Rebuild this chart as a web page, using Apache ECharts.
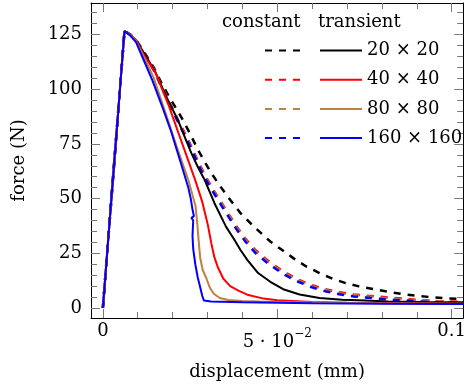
<!DOCTYPE html>
<html>
<head>
<meta charset="utf-8">
<style>
  html, body { margin: 0; padding: 0; background: #fff; }
  #chart { width: 469px; height: 390px; }
</style>
<script src="https://cdn.jsdelivr.net/npm/echarts@6/dist/echarts.min.js"></script>
</head>
<body>
<div id="chart"></div>
<script>
// displacement (mm), force (N) pairs
const const20 = [[0,0],[0.0062,126.6],[0.0078,125],[0.0095,122.6],[0.0123,115.8],[0.0147,109.6],[0.0169,102.5],[0.019,96.5],[0.0211,91],[0.0231,85.5],[0.0252,79],[0.0273,72.2],[0.0292,66.8],[0.0311,61.6],[0.0335,56],[0.0358,50.9],[0.0395,43.3],[0.0433,37.2],[0.048,30.4],[0.0513,26.6],[0.0546,22.8],[0.0583,19],[0.0621,16],[0.0658,13.4],[0.0696,11.4],[0.0734,9.9],[0.0776,8.6],[0.0818,7.4],[0.086,6.4],[0.0898,5.6],[0.094,5],[0.0982,4.5],[0.1033,4]];
const const40 = [[0,0],[0.0062,126.6],[0.0078,125],[0.0095,122.5],[0.0123,115.6],[0.0147,109],[0.0169,101.5],[0.019,94.5],[0.0217,85.5],[0.0245,76.8],[0.0273,67],[0.0297,59.5],[0.032,53.2],[0.0344,47.1],[0.0363,42.3],[0.0381,37.8],[0.0409,31.6],[0.0437,26.5],[0.047,22],[0.0491,19.6],[0.0522,16.2],[0.056,13],[0.0599,10.4],[0.0637,8.6],[0.0677,7.2],[0.0719,6.2],[0.0747,5.8],[0.079,5.2],[0.0832,4.6],[0.0874,4.1],[0.0916,3.6],[0.0959,3.2],[0.1001,3],[0.1033,2.8]];
const const80 = [[0,0],[0.0062,126.6],[0.0078,125],[0.0095,122.4],[0.0123,115.4],[0.0147,108.7],[0.0169,101.1],[0.019,94],[0.0217,85],[0.0245,76.2],[0.0273,66.4],[0.0297,58.9],[0.032,52.6],[0.0344,46.5],[0.0363,41.7],[0.0381,37.2],[0.0409,31],[0.0437,25.9],[0.047,21.4],[0.0491,19],[0.0522,15.7],[0.056,12.5],[0.0599,10],[0.0637,8.2],[0.0677,6.8],[0.0719,5.9],[0.0747,5.4],[0.079,4.8],[0.0832,4.3],[0.0874,3.8],[0.0916,3.4],[0.0959,3],[0.1001,2.8],[0.1033,2.6]];
const const160 = [[0,0],[0.0062,126.6],[0.0078,125],[0.0095,122.3],[0.0123,115.2],[0.0147,108.4],[0.0169,100.7],[0.019,93.5],[0.0217,84.4],[0.0245,75.6],[0.0273,65.8],[0.0297,58.2],[0.032,52],[0.0344,45.8],[0.0363,41],[0.0381,36.5],[0.0409,30.3],[0.0437,25.2],[0.047,20.8],[0.0491,18.4],[0.0522,15.1],[0.056,12],[0.0599,9.5],[0.0637,7.7],[0.0677,6.3],[0.0719,5.3],[0.0747,4.9],[0.079,4.3],[0.0832,3.8],[0.0874,3.4],[0.0916,3],[0.0959,2.7],[0.1001,2.5],[0.1033,2.4]];

const trans20 = [[0,0],[0.0062,126.6],[0.0078,125],[0.0095,122.4],[0.0123,115.3],[0.015,108],[0.0185,95.5],[0.0215,86],[0.0234,78.5],[0.0254,70.7],[0.0273,64.2],[0.0292,58.5],[0.032,47.9],[0.0353,37.2],[0.0377,31.2],[0.0395,26.4],[0.0414,22],[0.0445,16],[0.048,12],[0.0517,8.6],[0.0564,6.2],[0.0621,4.6],[0.0686,3.8],[0.0752,3.4],[0.0818,3],[0.0912,2.7],[0.1033,2.6]];
const trans40 = [[0,0],[0.0062,126.6],[0.0078,125],[0.0095,122.3],[0.012,115],[0.0151,107.5],[0.0189,92.5],[0.0226,75.8],[0.0264,58.8],[0.0285,48.5],[0.0301,38],[0.0311,29.5],[0.032,23],[0.033,18.5],[0.0345,13.5],[0.0365,10],[0.039,7.8],[0.0414,6.1],[0.0461,4.3],[0.05,3.5],[0.06,2.7],[0.07,2.4],[0.085,2.2],[0.1033,2]];
const trans80 = [[0,0],[0.0062,126.6],[0.0078,125],[0.0095,122],[0.012,114],[0.0145,105.5],[0.0178,90],[0.0212,73.7],[0.0245,58.5],[0.0266,46.4],[0.0271,38],[0.0275,30],[0.0279,23],[0.0286,17.5],[0.0297,13.5],[0.0306,9.5],[0.0318,6.5],[0.0335,4.6],[0.036,3.7],[0.04,3.2],[0.045,3],[0.06,2.5],[0.08,2.2],[0.1033,2]];
const trans160 = [[0,0],[0.0062,126.6],[0.0078,124.6],[0.0095,121.5],[0.0114,114.5],[0.0142,104],[0.0168,93],[0.0195,81],[0.0226,65],[0.0245,55],[0.0252,50],[0.0257,45],[0.0261,42],[0.0254,41.2],[0.0259,40],[0.0257,33],[0.0259,27],[0.0265,20],[0.0272,14],[0.0279,9.5],[0.0285,5.5],[0.029,3.4],[0.031,3],[0.04,2.6],[0.06,2.2],[0.08,2],[0.1033,1.8]];

const meshLabels = ['20 × 20', '40 × 40', '80 × 80', '160 × 160'];
const meshColors = ['#000000', '#ff0000', '#bf8040', '#0000ff'];
const constantData = [const20, const40, const80, const160];
const transientData = [trans20, trans40, trans80, trans160];

const xMajor = [0, 0.05, 0.1];
const xMinor = [0.01, 0.02, 0.03, 0.04, 0.06, 0.07, 0.08, 0.09];
const yMajor = [0, 25, 50, 75, 100, 125];
const yMinor = [5, 10, 15, 20, 30, 35, 40, 45, 55, 60, 65, 70, 80, 85, 90, 95, 105, 110, 115, 120, 130, 135];

const FONT = 'DejaVu Serif';
const TICK = '#777';
const X_MIN = -0.0034, X_MAX = 0.1033;
const Y_MIN = -4.56, Y_MAX = 139.4;

function frameAxis(position, min, max, ticks, len, showLine) {
  return {
    type: 'value',
    position,
    min,
    max,
    axisLine: { show: showLine, onZero: false, lineStyle: { color: '#000', width: 1 } },
    axisTick: { show: true, inside: true, length: len, customValues: ticks, lineStyle: { color: TICK, width: 1 } },
    axisLabel: { show: false },
    splitLine: { show: false },
  };
}

const xMain = frameAxis('bottom', X_MIN, X_MAX, xMajor, 9, true);
xMain.axisLabel = {
  show: true,
  customValues: xMajor,
  margin: 4,
  color: '#000',
  fontFamily: FONT,
  fontSize: 18,
  formatter: (v) => {
    if (Math.abs(v - 0.05) < 1e-9) return '{a|5 · 10}{b|−2}';
    if (Math.abs(v - 0.1) < 1e-9) return '0.1';
    return '0';
  },
  rich: {
    a: { fontFamily: FONT, fontSize: 18, color: '#000', padding: [11, 0, 0, 0] },
    b: { fontFamily: FONT, fontSize: 12, color: '#000', verticalAlign: 'top', padding: [6, 0, 0, 0] },
  },
};
xMain.name = 'displacement (mm)';
xMain.nameLocation = 'middle';
xMain.nameGap = 45;
xMain.nameTextStyle = { fontFamily: FONT, fontSize: 18, color: '#000' };

const yMain = frameAxis('left', Y_MIN, Y_MAX, yMajor, 9, true);
yMain.axisLabel = {
  show: true,
  customValues: yMajor,
  margin: 9,
  color: '#000',
  fontFamily: FONT,
  fontSize: 18,
};
yMain.name = 'force (N)';
yMain.nameLocation = 'middle';
yMain.nameGap = 63;
yMain.nameTextStyle = { fontFamily: FONT, fontSize: 18, color: '#000' };

const series = [];
constantData.forEach((d, i) => {
  series.push({
    name: 'constant ' + meshLabels[i],
    type: 'line',
    data: d,
    symbol: 'none',
    lineStyle: { color: meshColors[i], width: 2.5, type: [7, 7] },
    itemStyle: { color: meshColors[i] },
  });
});
transientData.forEach((d, i) => {
  series.push({
    name: meshLabels[i],
    type: 'line',
    data: d,
    symbol: 'none',
    lineStyle: { color: meshColors[i], width: 2, type: 'solid' },
    itemStyle: { color: meshColors[i] },
  });
});

const legendBase = {
  orient: 'vertical',
  top: 41.5,
  padding: 0,
  itemWidth: 42,
  itemHeight: 14,
  itemGap: 11.2,
  selectedMode: false,
  itemStyle: { opacity: 0, borderWidth: 0 },
  textStyle: { fontFamily: FONT, fontSize: 18, color: '#000' },
};

const chart = echarts.init(document.getElementById('chart'));
chart.setOption({
  animation: false,
  backgroundColor: '#fff',
  title: [
    { text: 'constant', left: 217, top: 8, textStyle: { fontFamily: FONT, fontSize: 18, fontWeight: 'normal', color: '#000' } },
    { text: 'transient', left: 313, top: 8, textStyle: { fontFamily: FONT, fontSize: 18, fontWeight: 'normal', color: '#000' } },
  ],
  legend: [
    Object.assign({}, legendBase, {
      data: meshLabels.map((m) => 'constant ' + m),
      left: 264,
      formatter: () => ' ',
    }),
    Object.assign({}, legendBase, {
      data: meshLabels,
      left: 319,
    }),
  ],
  grid: { left: 91, top: 3, width: 379, height: 315, containLabel: false },
  xAxis: [
    xMain,
    frameAxis('bottom', X_MIN, X_MAX, xMinor, 6, false),
    frameAxis('top', X_MIN, X_MAX, xMajor, 9, true),
    frameAxis('top', X_MIN, X_MAX, xMinor, 6, false),
  ],
  yAxis: [
    yMain,
    frameAxis('left', Y_MIN, Y_MAX, yMinor, 6, false),
    frameAxis('right', Y_MIN, Y_MAX, yMajor, 9, true),
    frameAxis('right', Y_MIN, Y_MAX, yMinor, 6, false),
  ],
  series,
});
</script>
</body>
</html>
